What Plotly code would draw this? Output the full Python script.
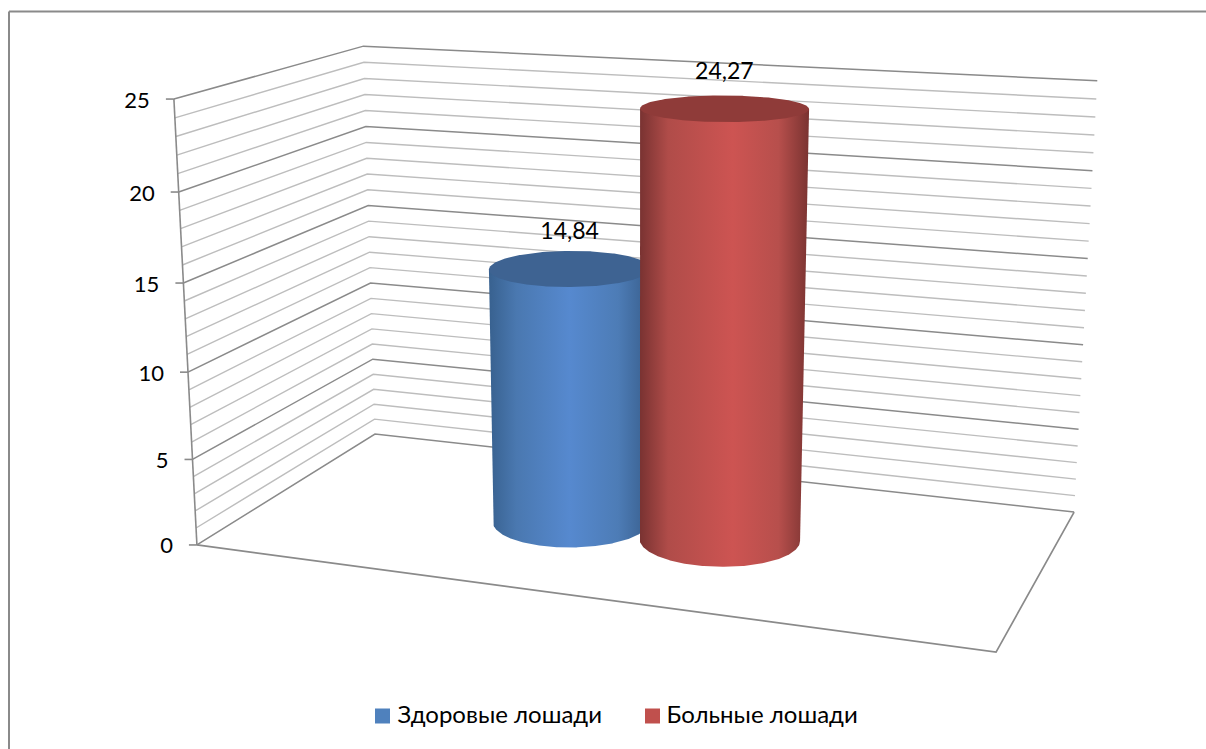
import numpy as np
import plotly.graph_objects as go

# Chart data
series_names = ["Здоровые лошади", "Больные лошади"]
series_values = [14.84, 24.27]
value_labels = ["14,84", "24,27"]
major_ticks = [0, 5, 10, 15, 20, 25]
minor_ticks = [1, 2, 3, 4, 6, 7, 8, 9, 11, 12, 13, 14, 16, 17, 18, 19, 21, 22, 23, 24]
tick_labels = ["0", "5", "10", "15", "20", "25"]

# Styling
FONT = "Lato, 'Open Sans', sans-serif"
MAJOR_LINE = "#8a8a8a"
MINOR_LINE = "#bdbdbd"
SWATCHES = ["#4f81bd", "#c0504d"]
CAP_COLORS = ["#3e6392", "#8f3b39"]
BODY_SCALES = [
    [[0, "#38618f"], [0.17, "#4a78b0"], [0.5, "#5689cf"], [0.8, "#4d7cb6"], [1, "#385e8c"]],
    [[0, "#783231"], [0.17, "#b04c49"], [0.55, "#cd5452"], [0.82, "#b74f4c"], [1, "#7a3331"]],
]

# Perspective camera: focal length, principal point, and the axes of the
# plot box expressed in camera space (scale chosen so the depth is ~1000 units)
FOCAL = 2310.0
PRINCIPAL = np.array([582.0, 368.0])
ORIGIN = np.array([-166.7, 76.6, 1000.0])
DIR_WIDTH = np.array([0.9337, 0.0909, -0.3464])
DIR_DEPTH = np.array([0.3620, -0.2500, 0.8981])
DIR_UP = np.array([-0.0050, -0.9649, -0.2626])
BOX_WIDTH, BOX_DEPTH, BOX_HEIGHT = 347.4, 174.2, 193.9
VALUE_MAX = 25.0

# Cylinder placement in box units
CENTER_U = [0.404, 0.603]
CENTER_V = 0.49
RADIUS = 34.8


def project(u, v, value, du=0.0, dv=0.0):
    """Map box coordinates (width, depth, value) to the pixel-sized 2D axes."""
    u, v, value = np.broadcast_arrays(u, v, value)
    p = (
        ORIGIN[:, None]
        + DIR_WIDTH[:, None] * (u.ravel() * BOX_WIDTH + du)
        + DIR_DEPTH[:, None] * (v.ravel() * BOX_DEPTH + dv)
        + DIR_UP[:, None] * (value.ravel() / VALUE_MAX * BOX_HEIGHT)
    )
    return PRINCIPAL[0] + FOCAL * p[0] / p[2], PRINCIPAL[1] + FOCAL * p[1] / p[2]


def polyline(us, vs, values, color, width=1.0):
    x, y = project(np.array(us, float), np.array(vs, float), np.array(values, float))
    return go.Scatter(x=x, y=y, mode="lines", line=dict(color=color, width=width),
                      hoverinfo="skip", showlegend=False)


fig = go.Figure()

# Gridlines on the side wall and back wall
for tick, color, width in [(t, MINOR_LINE, 1.4) for t in minor_ticks] + [(t, MAJOR_LINE, 1.5) for t in major_ticks]:
    fig.add_trace(polyline([0, 0, 1], [0, 1, 1], [tick, tick, tick], color, width))

# Value axis, its tick marks and the floor outline
fig.add_trace(polyline([0, 0], [0, 0], [0, VALUE_MAX], MAJOR_LINE, 1.6))
fig.add_trace(polyline([0, 1, 1], [0, 0, 1], [0, 0, 0], MAJOR_LINE, 1.7))

tick_x, tick_y = project(np.zeros(len(major_ticks)), np.zeros(len(major_ticks)), np.array(major_ticks, float))
for x, y in zip(tick_x, tick_y):
    fig.add_trace(go.Scatter(x=[x - 8, x], y=[y, y], mode="lines",
                             line=dict(color=MAJOR_LINE, width=1.6),
                             hoverinfo="skip", showlegend=False))
fig.add_trace(go.Scatter(x=tick_x - 24, y=tick_y + 3, mode="text", text=tick_labels,
                         textposition="middle left", textfont=dict(family=FONT, size=22, color="#000000"),
                         hoverinfo="skip", showlegend=False))

# Cylinders
angles = np.linspace(0, 2 * np.pi, 361)[:-1]
for i, value in enumerate(series_values):
    du = RADIUS * np.cos(angles)
    dv = RADIUS * np.sin(angles)
    base_x, base_y = project(CENTER_U[i], CENTER_V, 0.0, du, dv)
    top_x, top_y = project(CENTER_U[i], CENTER_V, value, du, dv)

    # Silhouette: tangent points of both rims joined through the front of the base
    left_b, right_b = int(np.argmin(base_x)), int(np.argmax(base_x))
    left_t, right_t = int(np.argmin(top_x)), int(np.argmax(top_x))
    front = base_y >= np.interp(base_x, [base_x[left_b], base_x[right_b]], [base_y[left_b], base_y[right_b]])
    order = np.argsort(base_x[front])
    body_x = np.r_[top_x[left_t], base_x[left_b], base_x[front][order], base_x[right_b], top_x[right_t]]
    body_y = np.r_[top_y[left_t], base_y[left_b], base_y[front][order], base_y[right_b], top_y[right_t]]

    fig.add_trace(go.Scatter(
        x=np.r_[body_x, body_x[0]], y=np.r_[body_y, body_y[0]], mode="lines", fill="toself",
        line=dict(width=0, color="rgba(0,0,0,0)"),
        fillgradient=dict(type="horizontal", colorscale=BODY_SCALES[i],
                          start=float(body_x.min()), stop=float(body_x.max())),
        hoverinfo="skip", showlegend=False))
    fig.add_trace(go.Scatter(
        x=np.r_[top_x, top_x[0]], y=np.r_[top_y, top_y[0]], mode="lines", fill="toself",
        fillcolor=CAP_COLORS[i], line=dict(width=0, color="rgba(0,0,0,0)"),
        hoverinfo="skip", showlegend=False))

# Value labels above the caps
label_x, label_y = project(np.array(CENTER_U), CENTER_V, np.array(series_values))
fig.add_trace(go.Scatter(x=label_x, y=label_y - 35, mode="text", text=value_labels,
                         textposition="middle center", textfont=dict(family=FONT, size=23, color="#000000"),
                         hoverinfo="skip", showlegend=False))

# Legend row under the plot
legend_swatch_x = [382.5, 652.5]
legend_text_x = [397.5, 666.5]
legend_y = 716
for sx, tx, name, color in zip(legend_swatch_x, legend_text_x, series_names, SWATCHES):
    fig.add_trace(go.Scatter(x=[sx], y=[legend_y], mode="markers", name=name,
                             marker=dict(symbol="square", size=15, color=color, line=dict(width=0)),
                             hoverinfo="name", showlegend=False))
    fig.add_trace(go.Scatter(x=[tx], y=[legend_y + 1], mode="text", text=[name],
                             textposition="middle right",
                             textfont=dict(family=FONT, size=24, color="#000000"),
                             hoverinfo="skip", showlegend=False))

fig.update_layout(
    width=1206, height=749, margin=dict(l=0, r=0, t=0, b=0),
    paper_bgcolor="#ffffff", plot_bgcolor="#ffffff", showlegend=False,
    xaxis=dict(range=[0, 1206], visible=False, fixedrange=True),
    yaxis=dict(range=[749, 0], visible=False, fixedrange=True),
    shapes=[
        dict(type="line", xref="x", yref="y", x0=9, x1=9, y0=11.5, y1=749, line=dict(color=MAJOR_LINE, width=2)),
        dict(type="line", xref="x", yref="y", x0=9, x1=1206, y0=11.5, y1=11.5, line=dict(color=MAJOR_LINE, width=2)),
    ],
)

fig.write_html("out.html")
